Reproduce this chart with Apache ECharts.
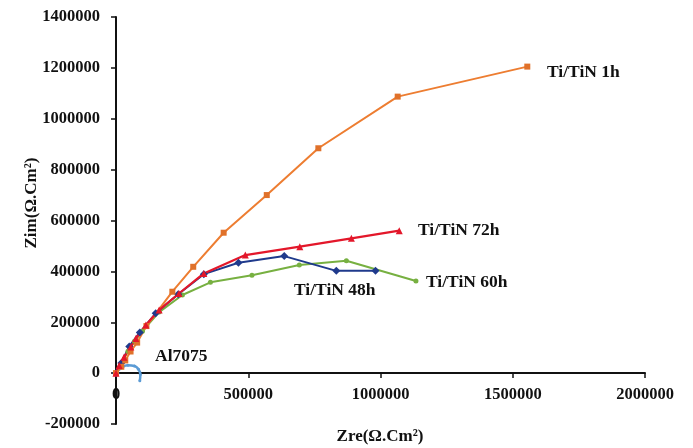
<!DOCTYPE html>
<html><head><meta charset="utf-8">
<script src="https://cdn.jsdelivr.net/npm/echarts@6/dist/echarts.min.js"></script>
<style>html,body{margin:0;padding:0;background:#fff}#c{width:693px;height:448px}</style>
</head><body><div id="c"></div>
<script>
// Nyquist data [Zre, Zim]
const ti1h = [[0,0],[20000,25000],[35000,50000],[55000,85000],[80000,120000],[115000,185000],[213000,320000],[292000,418000],[407000,552000],[570000,700000],[765000,884000],[1065000,1087000],[1555000,1205000]];
const ti72h = [[0,0],[12000,30000],[30000,62000],[56000,103000],[75000,136000],[113000,189000],[163000,248000],[238000,313000],[332000,392000],[489000,464000],[695000,497000],[890000,530000],[1071000,560000]];
const ti48h = [[0,0],[20000,40000],[50000,105000],[90000,160000],[150000,235000],[235000,310000],[332000,389000],[463000,434000],[636000,460000],[833000,402000],[981000,402000]];
const ti60h = [[0,0],[20000,40000],[45000,85000],[70000,125000],[100000,165000],[163000,240000],[251000,307000],[357000,357000],[514000,385000],[693000,425000],[871000,442000],[1134000,362000]];
const al7075 = [[0,0],[20000,20000],[45000,31000],[70000,28000],[85000,15000],[92000,-5000],[90000,-30000]];
const seriesNames = ['Al7075','Ti/TiN 60h','Ti/TiN 48h','Ti/TiN 1h','Ti/TiN 72h'];
const xTitle = 'Zre(Ω.Cm²)';
const yTitle = 'Zim(Ω.Cm²)';

const F = 'Liberation Serif';
const chart = echarts.init(document.getElementById('c'), null, {renderer:'canvas'});
const lbl = (t, x, y) => ({type:'text', left:x, top:y, style:{text:t, font:'bold 17.5px "Liberation Serif"', fill:'#111'}});
chart.setOption({
  animation:false,
  grid:{left:116, right:48, top:17, bottom:24, containLabel:false, outerBoundsMode:'none'},
  xAxis:{type:'value', min:0, max:2000000, interval:500000, offset:-51,
    axisLine:{onZero:false, lineStyle:{color:'#111', width:2}},
    axisTick:{show:true, length:5, lineStyle:{color:'#111', width:1.5}},
    axisLabel:{margin:13, color:'#111', fontFamily:F, fontWeight:'bold', fontSize:16.5, showMinLabel:true, showMaxLabel:true, formatter:v=>String(v)},
    splitLine:{show:false}},
  yAxis:{type:'value', min:-200000, max:1400000, interval:200000,
    axisLine:{show:true, onZero:false, lineStyle:{color:'#111', width:2}},
    axisTick:{show:true, length:5, lineStyle:{color:'#111', width:1.5}},
    axisLabel:{margin:16, color:'#111', fontFamily:F, fontWeight:'bold', fontSize:16.5, formatter:v=>String(v)},
    splitLine:{show:false}},
  graphic:[
    {type:'text', x:32, y:203, rotation:Math.PI/2, style:{text:yTitle, font:'bold 17px "Liberation Serif"', fill:'#111', align:'center', verticalAlign:'middle'}},
    {type:'text', x:380, y:437, style:{text:xTitle, font:'bold 17px "Liberation Serif"', fill:'#111', align:'center', verticalAlign:'middle'}},
    lbl('Ti/TiN 1h', 547, 63),
    lbl('Ti/TiN 72h', 418, 221),
    lbl('Ti/TiN 48h', 294, 281),
    lbl('Ti/TiN 60h', 426, 273),
    lbl('Al7075', 155, 347)
  ],
  series:[
    {name:seriesNames[0], type:'line', data:al7075, smooth:true, symbol:'circle', symbolSize:3, showSymbol:true,
      lineStyle:{color:'#5B9BD5', width:2.5}, itemStyle:{color:'#5B9BD5'}},
    {name:seriesNames[1], type:'line', data:ti60h, symbol:'circle', symbolSize:5,
      lineStyle:{color:'#77B041', width:2}, itemStyle:{color:'#77B041'}},
    {name:seriesNames[2], type:'line', data:ti48h, symbol:'diamond', symbolSize:8,
      lineStyle:{color:'#1F3A8C', width:2}, itemStyle:{color:'#1F3A8C'}},
    {name:seriesNames[3], type:'line', data:ti1h, symbol:'rect', symbolSize:6,
      lineStyle:{color:'#ED7D31', width:2}, itemStyle:{color:'#E0712A'}},
    {name:seriesNames[4], type:'line', data:ti72h, symbol:'triangle', symbolSize:7,
      lineStyle:{color:'#E3172A', width:2.2}, itemStyle:{color:'#E3172A'}}
  ]
});
</script></body></html>
